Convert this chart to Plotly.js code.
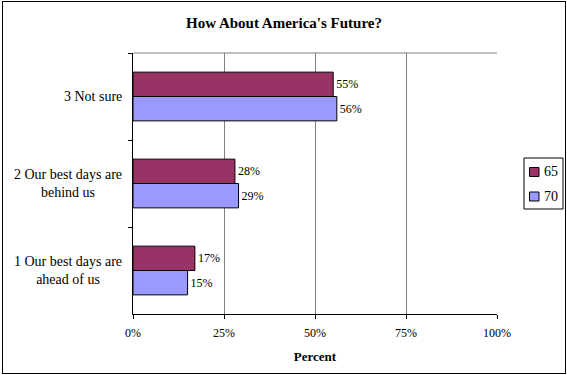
<!DOCTYPE html>
<html>
<head>
<meta charset="utf-8">
<script src="https://cdn.plot.ly/plotly-3.0.1.min.js"></script>
<style>
html, body { margin: 0; padding: 0; background: #fff; }
#frame { position: absolute; left: 2px; top: 1px; width: 562px; height: 371px; border: 1px solid #000; }
#chart { width: 562px; height: 371px; }
</style>
</head>
<body>
<div id="frame"><div id="chart"></div></div>
<script>
const categories = ["3 Not sure", "2 Our best days are<br>behind us", "1 Our best days are<br>ahead of us"];
const seriesNames = ["65", "70"];
const seriesColors = ["#993366", "#9999FF"];
const values65 = [55, 28, 17];
const values70 = [56, 29, 15];
const xTickVals = [0, 25, 50, 75, 100];
const xTickText = ["0%", "25%", "50%", "75%", "100%"];

const FONT = "'Liberation Serif', 'Times New Roman', serif";

const traces = [values65, values70].map((vals, i) => ({
  type: "bar", orientation: "h", name: seriesNames[i],
  y: categories, x: vals,
  text: vals.map(v => v + "%"), textposition: "outside",
  textfont: { family: FONT, size: 12, color: "#000" },
  marker: { color: seriesColors[i], line: { color: "#000", width: 1 } },
  cliponaxis: false, hoverinfo: "none", showlegend: false
}));

const annotations = categories.map(c => ({
  xref: "paper", yref: "y", x: -0.024, y: c, xanchor: "right", yanchor: "middle",
  text: c, align: "center", showarrow: false,
  font: { family: FONT, size: 14, color: "#000" }
}));

// Compact legend drawn as a box, swatches and labels (paper coordinates)
const legendSwatchY = [[0.5268, 0.5613], [0.4330, 0.4674]];
const legendTextY = [0.5441, 0.4483];
const shapes = [
  { type: "line", xref: "paper", yref: "paper", x0: 0, x1: 1, y0: 1, y1: 1, line: { color: "#808080", width: 1 } },
  { type: "rect", xref: "paper", yref: "paper", x0: 1.0742, x1: 1.1813, y0: 0.4023, y1: 0.5977,
    line: { color: "#000", width: 1 }, fillcolor: "#fff" }
];
seriesNames.forEach((n, i) => {
  shapes.push({ type: "rect", xref: "paper", yref: "paper", x0: 1.0893, x1: 1.1154,
    y0: legendSwatchY[i][0], y1: legendSwatchY[i][1],
    line: { color: "#000", width: 1 }, fillcolor: seriesColors[i] });
  annotations.push({ xref: "paper", yref: "paper", x: 1.1223, y: legendTextY[i],
    xanchor: "left", yanchor: "middle", text: n, showarrow: false,
    font: { family: FONT, size: 14, color: "#000" } });
});

const layout = {
  width: 562, height: 371,
  margin: { l: 130, r: 68, t: 51, b: 59, autoexpand: false },
  paper_bgcolor: "#fff", plot_bgcolor: "#fff",
  font: { family: FONT, size: 11, color: "#000" },
  title: { text: "<b>How About America's Future?</b>", font: { family: FONT, size: 15, color: "#000" },
           x: 0.5, xanchor: "center", y: 0.943, yanchor: "middle", xref: "container", yref: "container" },
  barmode: "group", bargap: 0.44, bargroupgap: 0,
  showlegend: false,
  xaxis: {
    range: [0, 100], tickvals: xTickVals, ticktext: xTickText,
    showgrid: true, gridcolor: "#808080", gridwidth: 1, zeroline: false,
    showline: true, linecolor: "#000", linewidth: 1,
    ticks: "outside", ticklen: 4, tickcolor: "#000", ticklabelstandoff: 4,
    tickfont: { family: FONT, size: 12, color: "#000" },
    title: { text: "<b>Percent</b>", font: { family: FONT, size: 13, color: "#000" }, standoff: 12 },
    fixedrange: true
  },
  yaxis: {
    type: "category", autorange: "reversed", tickson: "boundaries",
    showticklabels: false, showgrid: false, zeroline: false,
    showline: true, linecolor: "#000", linewidth: 1,
    ticks: "outside", ticklen: 4, tickcolor: "#000",
    fixedrange: true
  },
  shapes: shapes,
  annotations: annotations
};

Plotly.newPlot("chart", traces, layout, { displayModeBar: false, staticPlot: true });
</script>
</body>
</html>
